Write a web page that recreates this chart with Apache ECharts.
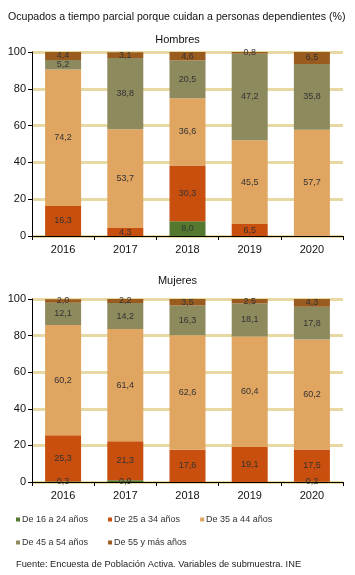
<!DOCTYPE html>
<html><head><meta charset="utf-8">
<script src="https://cdn.jsdelivr.net/npm/echarts@6/dist/echarts.min.js"></script>
<style>html,body{margin:0;padding:0;background:#fff}#c{width:355px;height:575px}</style>
</head><body><div id="c"></div>
<script>
var years = ['2016','2017','2018','2019','2020'];
var seriesNames = ['De 16 a 24 años','De 25 a 34 años','De 35 a 44 años','De 45 a 54 años','De 55 y más años'];
var colors = ['#55782f','#c84f0e','#e0a560','#8d8a5e','#9a5b1f'];
var yTicks = [0,20,40,60,80,100];
// Hombres
var h16_24 = [null, null, 8.0, null, null];
var h25_34 = [16.3, 4.3, 30.3, 6.5, null];
var h35_44 = [74.2, 53.7, 36.6, 45.5, 57.7];
var h45_54 = [5.2, 38.8, 20.5, 47.2, 35.8];
var h55 = [4.4, 3.1, 4.6, 0.8, 6.5];
// Mujeres
var m16_24 = [0.3, 0.9, null, null, 0.2];
var m25_34 = [25.3, 21.3, 17.6, 19.1, 17.5];
var m35_44 = [60.2, 61.4, 62.6, 60.4, 60.2];
var m45_54 = [12.1, 14.2, 16.3, 18.1, 17.8];
var m55 = [2.0, 2.2, 3.5, 2.5, 4.3];

var hData = [h16_24, h25_34, h35_44, h45_54, h55];
var mData = [m16_24, m25_34, m35_44, m45_54, m55];

var font = 'Liberation Sans, Arial, sans-serif';
function fmt(p){ if(p.value==null) return ''; return p.value.toFixed(1).replace('.', ','); }

function xAxis(gi){
  return {type:'category', gridIndex:gi, data:years,
    axisLine:{lineStyle:{color:'#000',width:1}},
    axisTick:{show:true,alignWithLabel:false,length:4,lineStyle:{color:'#000'}},
    axisLabel:{color:'#111',fontSize:11,fontFamily:font,margin:8}};
}
function yAxis(gi){
  return {type:'value', gridIndex:gi, min:yTicks[0], max:yTicks[yTicks.length-1], interval:yTicks[1]-yTicks[0],
    axisLine:{show:true,lineStyle:{color:'#000',width:1}},
    axisTick:{show:true,length:4,lineStyle:{color:'#000'}},
    axisLabel:{color:'#111',fontSize:11,fontFamily:font,margin:6},
    splitLine:{show:true,lineStyle:{color:'#e8d9a2',width:3}}};
}
var series = [];
[hData, mData].forEach(function(set, gi){
  set.forEach(function(arr, i){
    series.push({name:seriesNames[i], type:'bar', stack:'s'+gi, xAxisIndex:gi, yAxisIndex:gi,
      data:arr, barWidth:36, itemStyle:{color:colors[i]},
      label:{show:true, position:'inside', formatter:fmt, color:'#333', fontSize:9, fontFamily:font},
      emphasis:{disabled:true}});
  });
});
var legendCommon = {itemWidth:4,itemHeight:4,itemGap:20,icon:'rect',
  textStyle:{fontSize:9,color:'#333',fontFamily:font,padding:[0,0,0,-3]}};
var chart = echarts.init(document.getElementById('c'), null, {renderer:'canvas'});
chart.setOption({
  animation:false,
  color:colors,
  title:[
    {text:'Ocupados a tiempo parcial porque cuidan a personas dependientes (%)', left:3, top:7,
     textStyle:{fontSize:10.6,fontWeight:'normal',color:'#111',fontFamily:font}},
    {text:'Hombres', left:'center', top:29, textStyle:{fontSize:11,fontWeight:'normal',color:'#111',fontFamily:font}},
    {text:'Mujeres', left:'center', top:270, textStyle:{fontSize:11,fontWeight:'normal',color:'#111',fontFamily:font}},
    {text:'Fuente: Encuesta de Población Activa. Variables de submuestra. INE', left:11, top:555,
     textStyle:{fontSize:9.3,fontWeight:'normal',color:'#222',fontFamily:font}}
  ],
  legend:[
    Object.assign({left:11, top:510, data:seriesNames.slice(0,3)}, legendCommon),
    Object.assign({left:11, top:533, data:seriesNames.slice(3)}, legendCommon)
  ],
  grid:[
    {left:32, right:12, top:52, height:184},
    {left:32, right:12, top:299, height:183}
  ],
  xAxis:[xAxis(0), xAxis(1)],
  yAxis:[yAxis(0), yAxis(1)],
  series:series
});
</script></body></html>
